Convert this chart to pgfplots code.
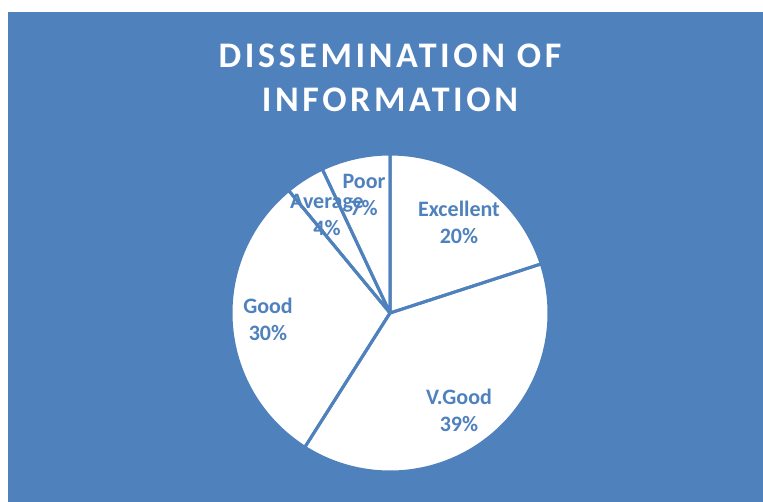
\documentclass[border=0pt]{standalone}
\usepackage{pgfplots}
\pgfplotsset{compat=1.18}
\usepackage{fontspec}
\setmainfont{Carlito}
\definecolor{bg}{HTML}{4F81BD}
% values (percent)
\def\vA{20}% Excellent
\def\vB{39}% V.Good
\def\vC{30}% Good
\def\vD{4}%  Average
\def\vE{7}%  Poor
\pgfmathsetmacro\aA{90}
\pgfmathsetmacro\aB{\aA-3.6*\vA}
\pgfmathsetmacro\aC{\aB-3.6*\vB}
\pgfmathsetmacro\aD{\aC-3.6*\vC}
\pgfmathsetmacro\aE{\aD-3.6*\vD}
\pgfmathsetmacro\aF{\aE-3.6*\vE}
\def\cx{390}\def\cy{313}\def\rr{159}
\begin{document}
\begin{tikzpicture}
\begin{axis}[
  at={(0,0)}, anchor=south west,
  scale only axis, width=763bp, height=502bp,
  xmin=0, xmax=763, ymin=0, ymax=502, y dir=reverse,
  hide axis, clip=false,
]
\fill[bg] (axis cs:8,12) rectangle (axis cs:763,502);
% fills
\addplot[fill=white, draw=none, domain=\aB:\aA, samples=60, variable=\t] ({\cx+\rr*cos(\t)},{\cy-\rr*sin(\t)}) -- (axis cs:\cx,\cy) -- cycle;
\addplot[fill=white, draw=none, domain=\aC:\aB, samples=100, variable=\t] ({\cx+\rr*cos(\t)},{\cy-\rr*sin(\t)}) -- (axis cs:\cx,\cy) -- cycle;
\addplot[fill=white, draw=none, domain=\aD:\aC, samples=100, variable=\t] ({\cx+\rr*cos(\t)},{\cy-\rr*sin(\t)}) -- (axis cs:\cx,\cy) -- cycle;
\addplot[fill=white, draw=none, domain=\aE:\aD, samples=20, variable=\t] ({\cx+\rr*cos(\t)},{\cy-\rr*sin(\t)}) -- (axis cs:\cx,\cy) -- cycle;
\addplot[fill=white, draw=none, domain=\aF:\aE, samples=30, variable=\t] ({\cx+\rr*cos(\t)},{\cy-\rr*sin(\t)}) -- (axis cs:\cx,\cy) -- cycle;
% borders
\addplot[draw=bg, line width=3bp, line join=round, domain=\aB:\aA, samples=60, variable=\t] ({\cx+\rr*cos(\t)},{\cy-\rr*sin(\t)}) -- (axis cs:\cx,\cy) -- cycle;
\addplot[draw=bg, line width=3bp, line join=round, domain=\aC:\aB, samples=100, variable=\t] ({\cx+\rr*cos(\t)},{\cy-\rr*sin(\t)}) -- (axis cs:\cx,\cy) -- cycle;
\addplot[draw=bg, line width=3bp, line join=round, domain=\aD:\aC, samples=100, variable=\t] ({\cx+\rr*cos(\t)},{\cy-\rr*sin(\t)}) -- (axis cs:\cx,\cy) -- cycle;
\addplot[draw=bg, line width=3bp, line join=round, domain=\aE:\aD, samples=20, variable=\t] ({\cx+\rr*cos(\t)},{\cy-\rr*sin(\t)}) -- (axis cs:\cx,\cy) -- cycle;
\addplot[draw=bg, line width=3bp, line join=round, domain=\aF:\aE, samples=30, variable=\t] ({\cx+\rr*cos(\t)},{\cy-\rr*sin(\t)}) -- (axis cs:\cx,\cy) -- cycle;
% title
\node[anchor=base, text=white, font={\fontsize{36bp}{42bp}\selectfont\bfseries\addfontfeatures{LetterSpace=10}}] at (axis cs:390,68) {DISSEMINATION OF};
\node[anchor=base, text=white, font={\fontsize{36bp}{42bp}\selectfont\bfseries\addfontfeatures{LetterSpace=10}}] at (axis cs:390,111) {INFORMATION};
% labels
\tikzset{lbl/.style={text=bg, align=center, font={\fontsize{22bp}{27bp}\selectfont\bfseries}, inner sep=0pt}}
\node[lbl] at (axis cs:459,222) {Excellent\\\vA\%};
\node[lbl] at (axis cs:459,410) {V.Good\\\vB\%};
\node[lbl] at (axis cs:268,319) {Good\\\vC\%};
\node[lbl] at (axis cs:327,215) {Average\\\vD\%};
\node[lbl] at (axis cs:364,195) {Poor\\\vE\%};
\end{axis}
\pgfresetboundingbox
\path (0,0) rectangle (763bp,502bp);
\end{tikzpicture}
\end{document}
